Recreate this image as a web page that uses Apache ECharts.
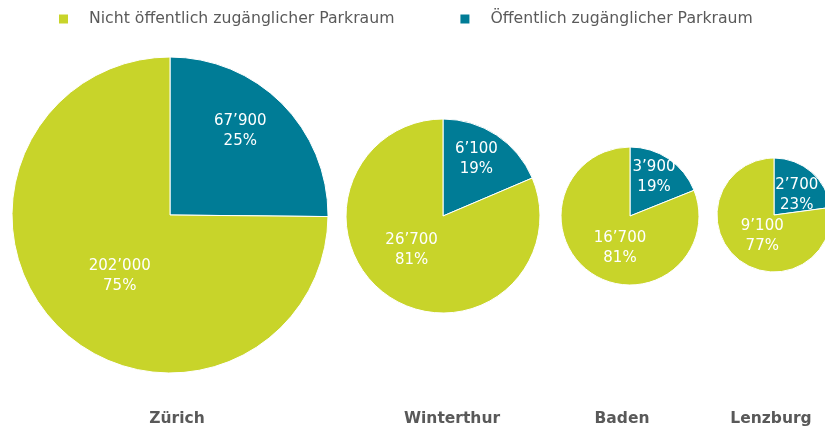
<!DOCTYPE html>
<html>
<head>
<meta charset="utf-8">
<script src="https://cdn.jsdelivr.net/npm/echarts@6/dist/echarts.min.js"></script>
<style>
  html, body { margin: 0; padding: 0; background: #fff; }
  #chart { width: 825px; height: 429px; }
</style>
</head>
<body>
<div id="chart"></div>
<script>
var cities = ['Zürich', 'Winterthur', 'Baden', 'Lenzburg'];
var publicSpaces = [67900, 6100, 3900, 2700];
var privateSpaces = [202000, 26700, 16700, 9100];
var seriesNames = ['Öffentlich zugänglicher Parkraum', 'Nicht öffentlich zugänglicher Parkraum'];
var legendOrder = ['Nicht öffentlich zugänglicher Parkraum', 'Öffentlich zugänglicher Parkraum'];

// layout of each pie (centre, radius), city label x and label nudges
var centers = [[170, 215], [443, 216], [630, 216], [774, 215]];
var radii = [158, 97, 69, 57];
var titleX = [172, 447, 617, 766];
var labelShift = [
  [[12, -26], [8, 3]],
  [[5, -14], [-3, -9]],
  [[3, -8], [11, 1]],
  [[2, 4], [9, -3]]
];
var colors = { 'Öffentlich zugänglicher Parkraum': '#007c96', 'Nicht öffentlich zugänglicher Parkraum': '#c8d42a' };

function fmt(v) {
  return String(v).replace(/\B(?=(\d{3})+(?!\d))/g, '\u2019');
}

var myChart = echarts.init(document.getElementById('chart'));

var series = cities.map(function (c, i) {
  return {
    name: c,
    type: 'pie',
    center: centers[i],
    radius: [0, radii[i]],
    startAngle: 90,
    clockwise: true,
    percentPrecision: 0,
    silent: true,
    label: {
      show: true,
      position: 'inside',
      color: '#fff',
      fontFamily: 'DejaVu Sans',
      fontSize: 15,
      lineHeight: 20,
      formatter: function (p) { return fmt(p.value) + '\n' + p.percent + '%'; }
    },
    labelLayout: function (p) {
      var s = labelShift[i][p.dataIndex];
      return { dx: s[0], dy: s[1] };
    },
    itemStyle: { borderColor: '#fff', borderWidth: 1 },
    data: [
      { name: seriesNames[0], value: publicSpaces[i], itemStyle: { color: colors[seriesNames[0]] } },
      { name: seriesNames[1], value: privateSpaces[i], itemStyle: { color: colors[seriesNames[1]] } }
    ]
  };
});

var titles = cities.map(function (c, i) {
  return {
    text: c,
    left: titleX[i],
    top: 406,
    textAlign: 'center',
    textStyle: { fontFamily: 'DejaVu Sans', fontSize: 15.5, fontWeight: 'bold', color: '#595959' }
  };
});

var option = {
  animation: false,
  title: titles,
  color: ['#c8d42a', '#007c96'],
  legend: {
    data: legendOrder,
    left: 52,
    top: 6,
    icon: 'rect',
    itemWidth: 11,
    itemHeight: 11,
    itemGap: 64,
    selectedMode: false,
    textStyle: { fontFamily: 'DejaVu Sans', fontSize: 15.7, color: '#5a5a5a', padding: [0, 0, 0, 15] }
  },
  series: series
};
myChart.setOption(option);
</script>
</body>
</html>
